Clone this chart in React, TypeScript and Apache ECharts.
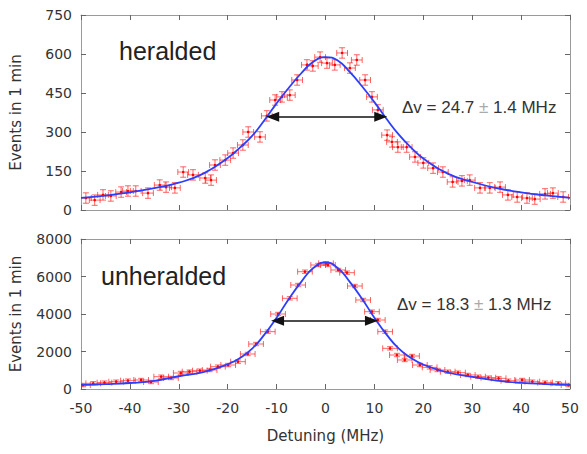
import React, { useEffect, useRef } from "react";
import * as echarts from "echarts";

// Heralded (top panel) measured points
const heraldedX = [-49, -47.2, -45.5, -43.9, -41.8, -40.4, -38.8, -36.3, -33.9, -32.6, -30.8, -29.1, -27.1, -24.6, -23.4, -22.6, -20.5, -18.9, -16.9, -15.8, -13.4, -12, -10.3, -8.9, -7.3, -5.8, -3.8, -2.6, -1.1, 0.3, 1.9, 3.4, 5, 6.4, 8.1, 9.5, 10.7, 12.6, 13.6, 14.8, 16.6, 18.3, 20, 22, 24, 26, 27.9, 29.5, 31.6, 33.6, 35.7, 37.3, 39.2, 41.2, 42.8, 44.9, 46.5, 48.6];
const heraldedY = [46, 38, 58, 54, 69, 73, 73, 65, 96, 88, 85, 146, 135, 123, 115, 173, 192, 219, 250, 300, 281, 362, 423, 435, 442, 500, 558, 554, 588, 565, 558, 604, 546, 577, 500, 435, 385, 288, 262, 242, 242, 204, 181, 161, 146, 108, 112, 115, 85, 85, 88, 58, 50, 46, 42, 62, 65, 50];
const heraldedErrX = 1.1;
const heraldedErrY = 20;

// Heralded fit curve
const heraldedFitX = [-50, -45, -40, -35, -30, -25, -20, -17.5, -15, -12.5, -10, -7.5, -5, -2.5, 0, 2.5, 5, 7.5, 10, 12.5, 15, 17.5, 20, 25, 30, 35, 40, 45, 50];
const heraldedFitY = [47, 55, 68, 84, 105, 140, 200, 240, 285, 345, 410, 470, 525, 570, 588, 575, 530, 475, 415, 350, 290, 240, 198, 140, 108, 84, 68, 56, 47];

// Unheralded (bottom panel) measured points
const unheraldedX = [-49.6, -47.5, -45.2, -42.8, -40.4, -37.7, -35.7, -33.6, -31.6, -29.6, -27.8, -25.7, -23.7, -22, -19.9, -17.9, -15.9, -14.2, -11.8, -9.7, -7.3, -5.6, -4.2, -1.5, 0.1, 0.5, 2.6, 4.4, 6, 7.7, 9.5, 10.7, 12.2, 13.2, 14.6, 16.2, 17.7, 19.3, 21.3, 22.9, 25, 27.1, 29.1, 31.2, 33.3, 35.4, 37.4, 40.2, 42.3, 44.9, 47.6, 49.7];
const unheraldedY = [213, 304, 338, 390, 444, 480, 373, 656, 587, 853, 924, 977, 1013, 1191, 1280, 1458, 1867, 2400, 3058, 4000, 4836, 5546, 6256, 6613, 6702, 6613, 6347, 6204, 5493, 4747, 4124, 3680, 3058, 2169, 1813, 1547, 1760, 1280, 1155, 1013, 924, 870, 747, 656, 603, 570, 444, 480, 390, 338, 304, 213];
const unheraldedErrX = 1.5;
const unheraldedErrY = 90;

// Unheralded fit curve
const unheraldedFitX = [-50, -45, -40, -35, -30, -25, -20, -17.5, -15, -12.5, -10, -7.5, -5, -2.5, 0, 2.5, 5, 7.5, 10, 12.5, 15, 17.5, 20, 25, 30, 35, 40, 45, 50];
const unheraldedFitY = [220, 260, 320, 430, 680, 900, 1320, 1650, 2150, 2900, 3800, 4800, 5700, 6450, 6750, 6450, 5700, 4800, 3800, 2900, 2150, 1650, 1300, 880, 650, 450, 330, 265, 220];

// Width arrows (endpoints = arrowhead centres)
const heraldedArrow = { x1: -10.8, x2: 11.3, y: 359 };
const unheraldedArrow = { x1: -9.8, x2: 9.4, y: 3640 };

const xTicks = { min: -50, max: 50, interval: 10 };
const topYTicks = { min: 0, max: 750, interval: 150 };
const bottomYTicks = { min: 0, max: 8000, interval: 2000 };

const FONT = "DejaVu Sans";
const AXIS_GRAY = "#9a9a9a";
const LABEL = "#333";

function errorBarRender(params: any, api: any) {
  const x = api.value(0);
  const y = api.value(1);
  const ex = api.value(2);
  const ey = api.value(3);
  const c = api.coord([x, y]);
  const l = api.coord([x - ex, y]);
  const r = api.coord([x + ex, y]);
  const t = api.coord([x, y + ey]);
  const b = api.coord([x, y - ey]);
  const cap = 3;
  const style = { stroke: "rgba(255,20,20,0.65)", lineWidth: 1 };
  return {
    type: "group",
    children: [
      { type: "line", shape: { x1: l[0], y1: l[1], x2: r[0], y2: r[1] }, style },
      { type: "line", shape: { x1: t[0], y1: t[1], x2: b[0], y2: b[1] }, style },
      { type: "line", shape: { x1: l[0], y1: l[1] - cap, x2: l[0], y2: l[1] + cap }, style },
      { type: "line", shape: { x1: r[0], y1: r[1] - cap, x2: r[0], y2: r[1] + cap }, style },
      { type: "line", shape: { x1: t[0] - cap, y1: t[1], x2: t[0] + cap, y2: t[1] }, style },
      { type: "line", shape: { x1: b[0] - cap, y1: b[1], x2: b[0] + cap, y2: b[1] }, style },
      { type: "circle", shape: { cx: c[0], cy: c[1], r: 1.3 }, style: { fill: "#ff0000" } },
    ],
  };
}

function xAxisDef(grid: number, bottom: boolean, showLabels: boolean) {
  return {
    type: "value",
    gridIndex: grid,
    position: bottom ? "bottom" : "top",
    ...xTicks,
    axisLine: { show: true, onZero: false, lineStyle: { color: AXIS_GRAY, width: 1 } },
    axisTick: { show: true, inside: true, length: 5, lineStyle: { color: "#666" } },
    splitLine: { show: false },
    axisLabel: { show: showLabels, fontFamily: FONT, fontSize: 14, color: LABEL, margin: 12, formatter: (v: number) => String(v) },
    name: showLabels ? "Detuning (MHz)" : "",
    nameLocation: "middle",
    nameGap: 39,
    nameTextStyle: { fontFamily: FONT, fontSize: 15, color: LABEL },
  };
}

function yAxisDef(grid: number, left: boolean, ticks: any) {
  return {
    type: "value",
    gridIndex: grid,
    position: left ? "left" : "right",
    ...ticks,
    axisLine: { show: true, onZero: false, lineStyle: { color: AXIS_GRAY, width: 1 } },
    axisTick: { show: true, inside: true, length: 5, lineStyle: { color: "#666" } },
    splitLine: { show: false },
    axisLabel: { show: left, fontFamily: FONT, fontSize: 14, color: LABEL, margin: 9, formatter: (v: number) => String(v) },
    name: left ? "Events in 1 min" : "",
    nameLocation: "middle",
    nameGap: 58,
    nameTextStyle: { fontFamily: FONT, fontSize: 15, color: LABEL },
  };
}

function arrowMarkLine(a: { x1: number; x2: number; y: number }) {
  return {
    silent: true,
    symbol: ["triangle", "triangle"],
    symbolSize: [10, 13],
    label: { show: false },
    lineStyle: { color: "#111", width: 1.5, type: "solid" },
    emphasis: { disabled: true },
    data: [[{ coord: [a.x1, a.y] }, { coord: [a.x2, a.y] }]],
  };
}

export default function App() {
  const ref = useRef<HTMLDivElement>(null);
  useEffect(() => {
    if (!ref.current) return;
    const chart = echarts.init(ref.current, undefined, { renderer: "svg" });
    const deltaText = (s1: string, s2: string) => ({
      text: `{a|Δv = ${s1} }{b|±}{a| ${s2} MHz}`,
      rich: {
        a: { fontFamily: "Liberation Sans", fontSize: 17, fill: "#333", color: "#333" },
        b: { fontFamily: "Liberation Sans", fontSize: 17, fill: "#aaa", color: "#aaa" },
      },
    });
    chart.setOption({
      animation: false,
      backgroundColor: "#fff",
      grid: [
        { left: 81, top: 15, width: 489, height: 195 },
        { left: 81, top: 239, width: 489, height: 150 },
      ],
      xAxis: [xAxisDef(0, true, false), xAxisDef(0, false, false), xAxisDef(1, true, true), xAxisDef(1, false, false)],
      yAxis: [yAxisDef(0, true, topYTicks), yAxisDef(0, false, topYTicks), yAxisDef(1, true, bottomYTicks), yAxisDef(1, false, bottomYTicks)],
      series: [
        {
          type: "custom",
          xAxisIndex: 0,
          yAxisIndex: 0,
          renderItem: errorBarRender,
          clip: true,
          data: heraldedX.map((x, i) => [x, heraldedY[i], heraldedErrX, heraldedErrY]),
          z: 2,
        },
        {
          type: "line",
          xAxisIndex: 0,
          yAxisIndex: 0,
          smooth: 0.5,
          showSymbol: false,
          lineStyle: { color: "#2b3dff", width: 1.8 },
          data: heraldedFitX.map((x, i) => [x, heraldedFitY[i]]),
          markLine: arrowMarkLine(heraldedArrow),
          z: 3,
        },
        {
          type: "custom",
          xAxisIndex: 2,
          yAxisIndex: 2,
          renderItem: errorBarRender,
          clip: true,
          data: unheraldedX.map((x, i) => [x, unheraldedY[i], unheraldedErrX, unheraldedErrY]),
          z: 2,
        },
        {
          type: "line",
          xAxisIndex: 2,
          yAxisIndex: 2,
          smooth: 0.5,
          showSymbol: false,
          lineStyle: { color: "#2b3dff", width: 1.8 },
          data: unheraldedFitX.map((x, i) => [x, unheraldedFitY[i]]),
          markLine: arrowMarkLine(unheraldedArrow),
          z: 3,
        },
      ],
      graphic: [
        {
          type: "text",
          left: 119,
          top: 38,
          style: { text: "heralded", fontFamily: "Liberation Sans", fontSize: 25, fill: "#222" },
        },
        {
          type: "text",
          left: 101,
          top: 263,
          style: { text: "unheralded", fontFamily: "Liberation Sans", fontSize: 25, fill: "#222" },
        },
        { type: "text", left: 402, top: 99, style: deltaText("24.7", "1.4") },
        { type: "text", left: 397, top: 296, style: deltaText("18.3", "1.3") },
      ],
    });
    return () => chart.dispose();
  }, []);
  return (
    <div
      ref={ref}
      style={{ position: "fixed", left: 0, top: 0, width: 587, height: 454, background: "#fff" }}
    />
  );
}
